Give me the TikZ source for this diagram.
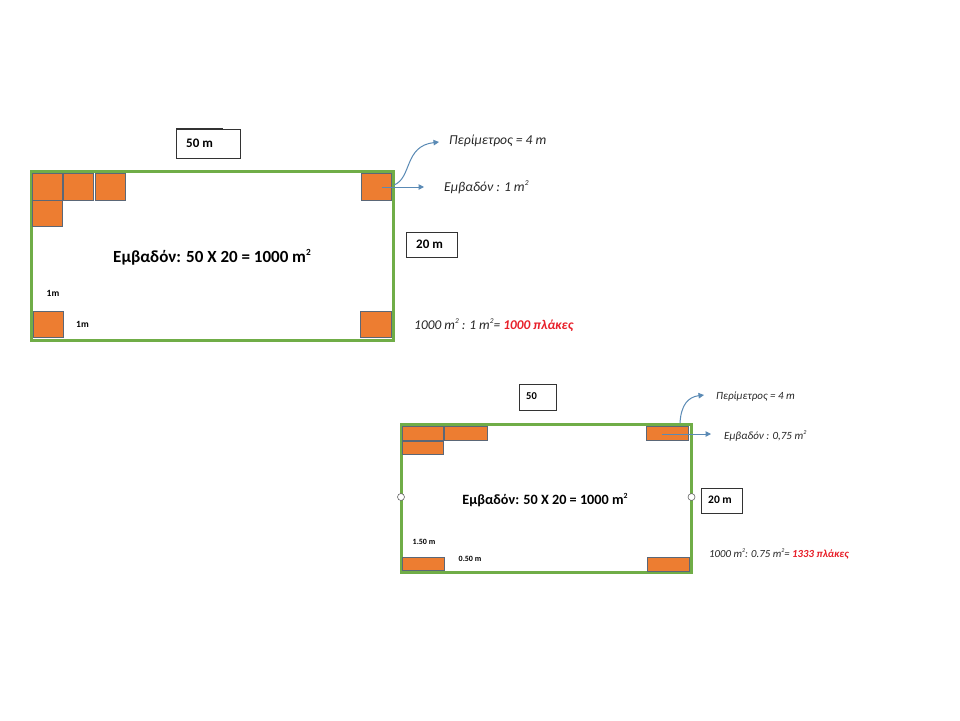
\documentclass[tikz,border=0pt]{standalone}
\usepackage{fontspec}
\usepackage{graphicx}
\setmainfont{Carlito}
\usetikzlibrary{arrows.meta}
\definecolor{grn}{HTML}{70AD47}
\definecolor{org}{HTML}{ED7D31}
\definecolor{tileb}{HTML}{5B6777}
\definecolor{arr}{HTML}{5A8AB5}
\definecolor{redt}{HTML}{E8202A}
\newcommand{\sqtwo}{\raisebox{0.85ex}{\scalebox{0.55}{2}}}
\tikzset{
  field/.style={draw=grn,line width=3pt,fill=white},
  tile/.style={draw=tileb,line width=1pt,fill=org},
  labbox/.style={draw=black!80,line width=0.8pt,fill=white},
  blab/.style={font=\bfseries,inner sep=0pt},
  ilab/.style={font=\itshape,inner sep=0pt,anchor=west,text=black!85},
  conn/.style={draw=arr,line width=1pt,-{Triangle[length=5.5pt,width=5.5pt]}},
  handle/.style={circle,draw=black!60,fill=white,line width=0.6pt,minimum size=7pt,inner sep=0pt}
}
\begin{document}
\begin{tikzpicture}[x=1pt,y=-1pt]
\useasboundingbox[fill=white] (0,0) rectangle (960,720);
% ===== top diagram =====
\path[field] (31.5,171.5) rectangle (393.5,340.5);
\node[tile,minimum width=30pt,minimum height=27pt,inner sep=0pt] (t1) at (47.5,187) {};
\node[tile,minimum width=30pt,minimum height=27pt,inner sep=0pt] (t2) at (78.5,187) {};
\node[tile,minimum width=30pt,minimum height=27pt,inner sep=0pt] (t3) at (110,187) {};
\node[tile,minimum width=30pt,minimum height=26pt,inner sep=0pt] (t4) at (47.5,213) {};
\node[tile,minimum width=30pt,minimum height=27pt,inner sep=0pt] (tr) at (376.5,187) {};
\node[tile,minimum width=30pt,minimum height=26pt,inner sep=0pt] (bl) at (48,324.5) {};
\node[tile,minimum width=31pt,minimum height=26pt,inner sep=0pt] (br) at (375.5,324.5) {};
\node[labbox,minimum width=64pt,minimum height=29pt,inner sep=0pt] (b50) at (208,143.5) {};
\draw[black!80,line width=1.2pt] (176,128.3) -- (223,128.3);
\node[blab,font=\bfseries\fontsize{13}{15}\selectfont,anchor=west] (l50) at (186,143) {50 m};
\node[labbox,minimum width=51pt,minimum height=25pt,inner sep=0pt] (b20) at (431.5,244.5) {};
\node[blab,font=\bfseries\fontsize{13}{15}\selectfont,anchor=west] (l20) at (416,244) {20 m};
\node[blab,font=\bfseries\fontsize{17}{20}\selectfont] (main1) at (212,257) {Εμβαδόν: 50 X 20 = 1000 m\sqtwo};
\node[blab,font=\bfseries\fontsize{9.5}{11}\selectfont] (s1) at (53,293) {1m};
\node[blab,font=\bfseries\fontsize{9.5}{11}\selectfont] (s2) at (82.5,324.5) {1m};
\coordinate (a1s) at (382,187);
\coordinate (a1e) at (424,187);
\draw[conn] (a1s) -- (a1e);
\coordinate (c1s) at (394,185);
\coordinate (c1e) at (439,142);
\draw[conn] (c1s) .. controls (412,178) and (404,146) .. (c1e);
\node[ilab,font=\itshape\fontsize{13.6}{16}\selectfont] (per1) at (449,141) {Περίμετρος = 4 m};
\node[ilab,font=\itshape\fontsize{13.6}{16}\selectfont] (emb1) at (444,187) {Εμβαδόν : 1 m\sqtwo};
\node[ilab,font=\itshape\fontsize{13.4}{16}\selectfont] (res1) at (414,325) {1000 m\sqtwo\ : 1 m\sqtwo= {\bfseries\color{redt}1000 πλάκες}};
% ===== bottom diagram =====
\path[field] (401,424) rectangle (691.5,572.5);
\node[handle] (h1) at (401,497) {};
\node[handle] (h2) at (691.5,497) {};
\node[tile,minimum width=41pt,minimum height=14pt,inner sep=0pt] (u1) at (422.5,433) {};
\node[tile,minimum width=43pt,minimum height=14pt,inner sep=0pt] (u2) at (465.5,433) {};
\node[tile,minimum width=41pt,minimum height=13pt,inner sep=0pt] (u3) at (422.5,447.5) {};
\node[tile,minimum width=42pt,minimum height=14pt,inner sep=0pt] (ur) at (667,433) {};
\node[tile,minimum width=42pt,minimum height=13pt,inner sep=0pt] (ul) at (423,563.5) {};
\node[tile,minimum width=42pt,minimum height=14pt,inner sep=0pt] (urb) at (668,564) {};
\node[labbox,minimum width=37pt,minimum height=26pt,inner sep=0pt] (c50) at (537.5,397) {};
\node[blab,font=\bfseries\fontsize{10.5}{12}\selectfont,anchor=west] (m50) at (526,396) {50};
\node[labbox,minimum width=41pt,minimum height=25pt,inner sep=0pt] (c20) at (721.5,500.5) {};
\node[blab,font=\bfseries\fontsize{11.5}{13}\selectfont,anchor=west] (m20) at (708,500) {20 m};
\node[blab,font=\bfseries\fontsize{14.2}{17}\selectfont] (main2) at (545,500) {Εμβαδόν: 50 X 20 = 1000 m\sqtwo};
\node[blab,font=\bfseries\fontsize{8}{9}\selectfont] (s3) at (424,542) {1.50 m};
\node[blab,font=\bfseries\fontsize{8}{9}\selectfont] (s4) at (470,558.5) {0.50 m};
\coordinate (a2s) at (662,434);
\coordinate (a2e) at (711,434);
\draw[conn] (a2s) -- (a2e);
\coordinate (c2s) at (680,423);
\coordinate (c2e) at (704,395);
\draw[conn] (c2s) .. controls (681,405) and (688,397) .. (c2e);
\node[ilab,font=\itshape\fontsize{11}{13}\selectfont] (per2) at (716,397) {Περίμετρος = 4 m};
\node[ilab,font=\itshape\fontsize{11}{13}\selectfont] (emb2) at (724,436) {Εμβαδόν : 0,75 m\sqtwo};
\node[ilab,font=\itshape\fontsize{10.8}{13}\selectfont] (res2) at (709,554) {1000 m\sqtwo: 0.75 m\sqtwo= {\bfseries\color{redt}1333 πλάκες}};
\end{tikzpicture}
\end{document}
